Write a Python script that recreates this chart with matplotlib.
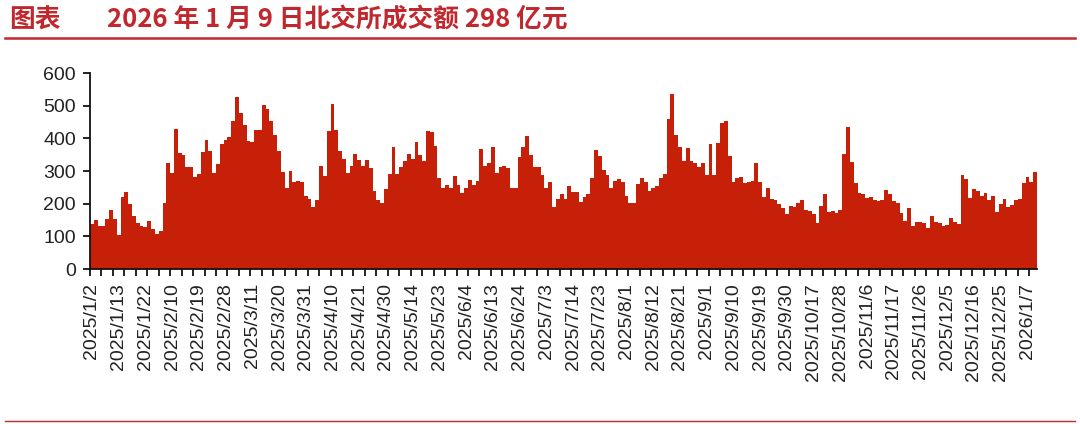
import matplotlib
matplotlib.use("Agg")
import matplotlib.pyplot as plt
import pandas as pd
import numpy as np

# ---- data ----
holidays = ["2025-01-28", "2025-01-29", "2025-01-30", "2025-01-31", "2025-02-03", "2025-02-04",
            "2025-04-04", "2025-05-01", "2025-05-02", "2025-05-05", "2025-06-02",
            "2025-10-01", "2025-10-02", "2025-10-03", "2025-10-06", "2025-10-07", "2025-10-08",
            "2026-01-01", "2026-01-02"]
turnover = [
    137, 150, 133, 133, 152, 182, 153, 104, 220, 237, 198, 163, 140, 132, 128, 148, 123, 106, 115, 201,
    324, 295, 428, 355, 348, 311, 312, 281, 290, 357, 396, 360, 295, 321, 382, 394, 404, 452, 527, 478,
    442, 393, 388, 426, 426, 501, 490, 452, 411, 360, 297, 247, 301, 265, 268, 265, 224, 214, 191, 212,
    314, 285, 423, 505, 426, 360, 337, 295, 316, 352, 334, 316, 334, 309, 240, 212, 203, 244, 290, 375,
    290, 311, 331, 352, 337, 388, 350, 331, 423, 418, 377, 278, 247, 258, 247, 285, 258, 232, 249, 271,
    258, 268, 368, 316, 324, 373, 293, 312, 314, 309, 249, 249, 343, 373, 406, 350, 312, 312, 288, 247,
    265, 191, 214, 229, 214, 253, 237, 235, 204, 220, 229, 280, 365, 347, 304, 288, 247, 268, 275, 265,
    222, 203, 203, 261, 278, 265, 239, 247, 253, 278, 290, 459, 536, 411, 373, 332, 370, 332, 324, 312,
    326, 288, 382, 288, 385, 447, 452, 345, 265, 278, 281, 263, 265, 268, 324, 265, 220, 249, 214, 212,
    199, 186, 169, 194, 191, 201, 212, 181, 179, 169, 142, 194, 230, 174, 179, 171, 181, 353, 434, 329,
    263, 234, 229, 217, 220, 210, 207, 210, 242, 229, 207, 201, 171, 148, 186, 132, 145, 143, 140, 127,
    161, 143, 140, 133, 135, 155, 143, 137, 288, 275, 217, 245, 240, 222, 234, 212, 222, 176, 199, 214,
    191, 196, 210, 214, 263, 281, 265, 298]
yticks = [0, 100, 200, 300, 400, 500, 600]
label_every = 7
title_tag = "图表"
title_text = "2026 年 1 月 9 日北交所成交额 298 亿元"

days = pd.bdate_range("2025-01-02", "2026-01-09")
days = days[~days.isin(pd.to_datetime(holidays))]
labels = [f"{d.year}/{d.month}/{d.day}" for d in days]
n = min(len(labels), len(turnover))
labels = labels[:n]
vals = turnover[:n]

# ---- figure ----
W, H = 1080, 424
fig = plt.figure(figsize=(W / 100, H / 100), dpi=100)
bar_color = "#C62108"
red = "#C0282D"

ax = fig.add_axes([90 / W, 1 - 269 / H, (1037 - 90) / W, (269 - 73) / H])
x = np.arange(n)
ax.bar(x, vals, width=1.0, color=bar_color, linewidth=0)
ax.set_xlim(-0.5, n - 0.5)
ax.set_ylim(0, 600)
ax.set_yticks(yticks)
ax.set_yticklabels([str(v) for v in yticks], fontsize=14, family="Liberation Sans", color="#222222")
ax.set_xticks(x[::label_every])
ax.set_xticklabels(labels[::label_every], rotation=90, fontsize=14, family="Liberation Sans",
                   color="#222222", va="top", ha="center")
ax.set_xticks(np.arange(-0.5, n, 3), minor=True)
ax.tick_params(axis="x", which="major", length=0, pad=10)
ax.tick_params(axis="x", which="minor", length=5, width=1.3, direction="out", color="#111111")
ax.tick_params(axis="y", which="major", length=5, width=1.3, direction="out", pad=5, color="#111111")
for s in ["top", "right"]:
    ax.spines[s].set_visible(False)
for s in ["left", "bottom"]:
    ax.spines[s].set_linewidth(1.3)
    ax.spines[s].set_color("#111111")

# ---- title and rules ----
fig.text(9 / W, 1 - 20 / H, title_tag, fontsize=18.5, fontweight="bold", color=red,
         family=["Noto Sans CJK SC", "DejaVu Sans"], va="center", ha="left")
fig.text(107 / W, 1 - 20 / H, title_text, fontsize=18.5, fontweight="bold", color=red,
         family=["Noto Sans CJK SC", "DejaVu Sans"], va="center", ha="left")
fig.add_artist(plt.Line2D([5 / W, 1075 / W], [1 - 38 / H, 1 - 38 / H], color=red, linewidth=1.8))
fig.add_artist(plt.Line2D([5 / W, 1075 / W], [1 - 421 / H, 1 - 421 / H], color=red, linewidth=1.0))

fig.savefig("out.png", dpi=100)
